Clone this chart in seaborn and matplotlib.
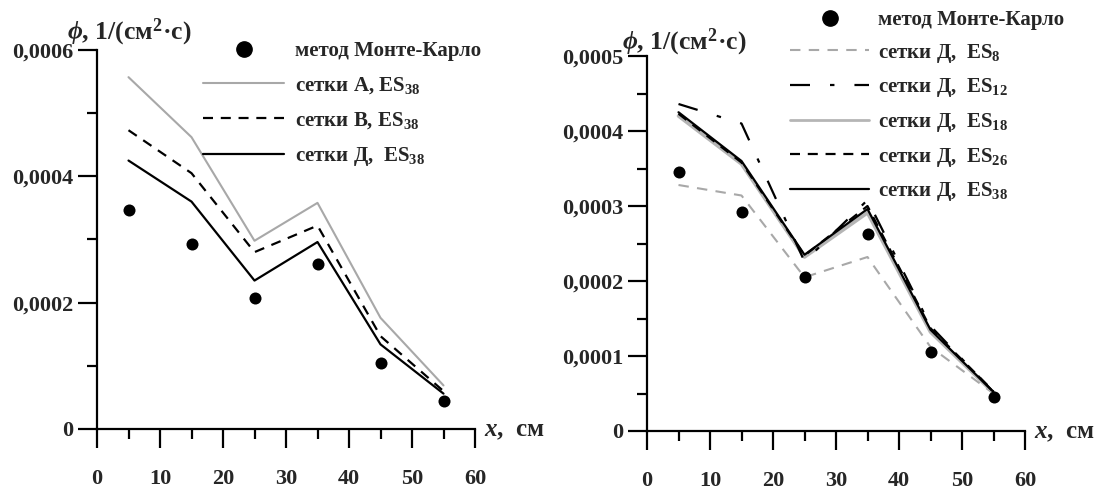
import numpy as np
import pandas as pd
import matplotlib
matplotlib.use("Agg")
import matplotlib.pyplot as plt
from matplotlib.ticker import MultipleLocator, FuncFormatter
from matplotlib.lines import Line2D
import seaborn as sns

# ---------------- data ----------------
x_cm = [5, 15, 25, 35, 45, 55]

# left panel
mc_left = [0.000346, 0.000293, 0.000207, 0.000262, 0.000105, 0.000045]
grid_A_es38 = [0.000557, 0.000462, 0.000298, 0.000358, 0.000176, 0.000069]
grid_B_es38 = [0.000473, 0.000405, 0.000280, 0.000322, 0.000147, 0.000060]
grid_D_es38 = [0.000425, 0.000360, 0.000235, 0.000296, 0.000134, 0.000056]

# right panel
mc_right = [0.000346, 0.000292, 0.000206, 0.000262, 0.000105, 0.000045]
grid_D_es8 = [0.000328, 0.000314, 0.000205, 0.000232, 0.000112, 0.000050]
grid_D_es12 = [0.000436, 0.000410, 0.000226, 0.000308, 0.000140, 0.000052]
grid_D_es18 = [0.000420, 0.000356, 0.000232, 0.000291, 0.000132, 0.000051]
grid_D_es26 = [0.000423, 0.000358, 0.000234, 0.000300, 0.000137, 0.000053]
grid_D_es38_r = [0.000425, 0.000360, 0.000235, 0.000296, 0.000135, 0.000052]

left_labels = ["метод Монте-Карло", "сетки А, ES$_{38}$", "сетки В, ES$_{38}$", "сетки Д,  ES$_{38}$"]
right_labels = ["метод Монте-Карло", "сетки Д,  ES$_{8}$", "сетки Д,  ES$_{12}$",
                "сетки Д,  ES$_{18}$", "сетки Д,  ES$_{26}$", "сетки Д,  ES$_{38}$"]
ylabel_text = r"$\phi$, 1/(см$^{2}$·с)"
xlabel_text = r"$x$,  см"

# ---------------- style ----------------
sns.set_style("white")
plt.rcParams["font.family"] = ["Liberation Serif", "DejaVu Serif"]
plt.rcParams["font.weight"] = "bold"
plt.rcParams["mathtext.fontset"] = "custom"
plt.rcParams["mathtext.rm"] = "Liberation Serif:bold"
plt.rcParams["mathtext.it"] = "Liberation Serif:italic:bold"
plt.rcParams["mathtext.bf"] = "Liberation Serif:bold"

W, H = 1098, 491
fig = plt.figure(figsize=(W / 100, H / 100), dpi=100)


def px_axes(x0, x1, y_bottom, y_top):
    return fig.add_axes([x0 / W, 1 - y_bottom / H, (x1 - x0) / W, (y_bottom - y_top) / H])


axL = px_axes(97, 475, 429, 50)
axR = px_axes(647, 1025, 431, 56)

fmt = FuncFormatter(lambda v, p: "0" if abs(v) < 1e-12 else f"{v:.4f}".replace(".", ","))

GRAY = "#a8a8a8"
LW = 1.6
TICKFS = 16
LEGFS = 15


def style_axes(ax, ymax, ymajor, yminor):
    ax.set_xlim(0, 60)
    ax.set_ylim(0, ymax)
    ax.xaxis.set_major_locator(MultipleLocator(10))
    ax.xaxis.set_minor_locator(MultipleLocator(5))
    ax.yaxis.set_major_locator(MultipleLocator(ymajor))
    ax.yaxis.set_minor_locator(MultipleLocator(yminor))
    ax.yaxis.set_major_formatter(fmt)
    for s in ["top", "right"]:
        ax.spines[s].set_visible(False)
    for s in ["left", "bottom"]:
        ax.spines[s].set_linewidth(1.6)
        ax.spines[s].set_color("black")
    ax.tick_params(axis="both", which="both", bottom=True, left=True, top=False, right=False)
    ax.tick_params(axis="both", which="major", direction="out", length=14, width=1.6,
                   color="black", labelsize=TICKFS)
    ax.tick_params(axis="both", which="minor", direction="out", length=7, width=1.6,
                   color="black")
    ax.tick_params(axis="x", which="major", pad=15)
    ax.tick_params(axis="y", which="major", pad=3)
    ax.set_xlabel("")
    ax.set_ylabel("")
    for lab in ax.get_xticklabels() + ax.get_yticklabels():
        lab.set_fontweight("bold")


# ---------------- left panel ----------------
sns.lineplot(x=x_cm, y=grid_A_es38, ax=axL, color=GRAY, lw=1.5, linestyle="-")
sns.lineplot(x=x_cm, y=grid_B_es38, ax=axL, color="black", lw=LW, linestyle=(0, (4.5, 3.5)))
sns.lineplot(x=x_cm, y=grid_D_es38, ax=axL, color="black", lw=LW, linestyle="-")
sns.scatterplot(x=x_cm, y=mc_left, ax=axL, color="black", s=75, edgecolor="black", linewidth=0, zorder=5)
style_axes(axL, 0.0006, 0.0002, 0.0001)

# ---------------- right panel ----------------
sns.lineplot(x=x_cm, y=grid_D_es8, ax=axR, color=GRAY, lw=1.5, linestyle=(0, (5, 4)))
sns.lineplot(x=x_cm, y=grid_D_es18, ax=axR, color="#b5b5b5", lw=2.6, linestyle="-")
sns.lineplot(x=x_cm, y=grid_D_es12, ax=axR, color="black", lw=LW, linestyle=(0, (9, 9, 2, 9)))
sns.lineplot(x=x_cm, y=grid_D_es26, ax=axR, color="black", lw=LW, linestyle=(0, (4.5, 3.5)))
sns.lineplot(x=x_cm, y=grid_D_es38_r, ax=axR, color="black", lw=LW, linestyle="-")
sns.scatterplot(x=x_cm, y=mc_right, ax=axR, color="black", s=75, edgecolor="black", linewidth=0, zorder=5)
style_axes(axR, 0.0005, 0.0001, 0.00005)

# ---------------- legends ----------------
mc_handle = Line2D([], [], color="black", marker="o", markersize=11, linestyle="none")
hL = [mc_handle,
      Line2D([], [], color=GRAY, lw=1.5),
      Line2D([], [], color="black", lw=LW, linestyle=(0, (4.5, 3.5))),
      Line2D([], [], color="black", lw=LW)]
legL = axL.legend(hL, left_labels, loc="upper left", bbox_to_anchor=(203 / W, 1 - 41 / H),
                  bbox_transform=fig.transFigure, frameon=False, fontsize=LEGFS,
                  handlelength=3.9, handletextpad=0.5, labelspacing=0.68,
                  borderpad=0, borderaxespad=0)

hR = [mc_handle,
      Line2D([], [], color=GRAY, lw=1.5, linestyle=(0, (5, 4))),
      Line2D([], [], color="black", lw=LW, linestyle=(0, (9, 9, 2, 9))),
      Line2D([], [], color="#b5b5b5", lw=2.0),
      Line2D([], [], color="black", lw=LW, linestyle=(0, (4.5, 3.5))),
      Line2D([], [], color="black", lw=LW)]
legR = axR.legend(hR, right_labels, loc="upper left", bbox_to_anchor=(790 / W, 1 - 10 / H),
                  bbox_transform=fig.transFigure, frameon=False, fontsize=LEGFS,
                  handlelength=3.8, handletextpad=0.4, labelspacing=0.56,
                  borderpad=0, borderaxespad=0)
for leg in (legL, legR):
    for t in leg.get_texts():
        t.set_fontweight("bold")

# ---------------- axis titles ----------------
fig.text(67 / W, 1 - 32 / H, ylabel_text, fontsize=18.5, fontweight="bold", ha="left", va="center")
fig.text(622 / W, 1 - 42 / H, ylabel_text, fontsize=18.5, fontweight="bold", ha="left", va="center")
fig.text(484 / W, 1 - 430 / H, xlabel_text, fontsize=18, fontweight="bold", ha="left", va="center")
fig.text(1034 / W, 1 - 432 / H, xlabel_text, fontsize=18, fontweight="bold", ha="left", va="center")

fig.savefig("out.png", dpi=100, facecolor="white")
